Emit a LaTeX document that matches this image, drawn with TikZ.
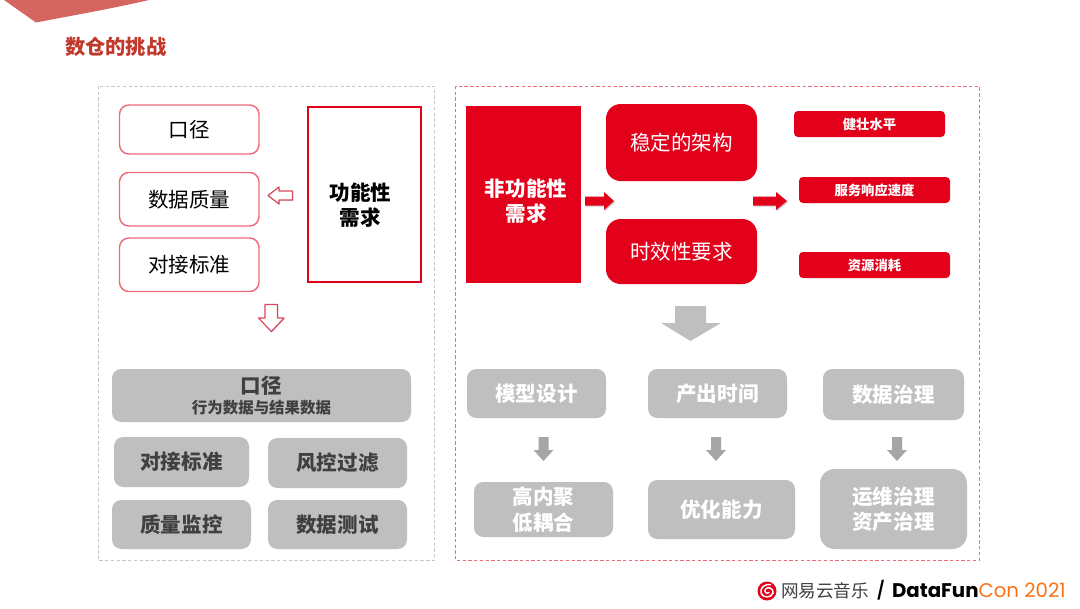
\documentclass[tikz,border=0pt]{standalone}
\usepackage{fontspec}
\setmainfont{Noto Sans CJK SC}
\newfontfamily\latinbold{Poppins}
\usetikzlibrary{shadows,calc}
\definecolor{nered}{HTML}{E2001A}
\definecolor{paleline}{HTML}{EE6A7C}
\definecolor{arrowline}{HTML}{D9485C}
\definecolor{greyfill}{HTML}{BFBFBF}
\definecolor{greydark}{HTML}{A6A6A6}
\definecolor{greytext}{HTML}{404040}
\definecolor{titlered}{HTML}{C0392B}
\definecolor{wedge}{HTML}{D4665F}
\definecolor{funorange}{HTML}{F97316}
\tikzset{
  x=0.75pt,y=-0.75pt,
  every node/.style={align=center,inner sep=0pt,outer sep=0pt,font=\fontsize{15.4}{19}\selectfont},
  frame/.style={draw,line width=0.6pt,dash pattern=on 2.5pt off 1.8pt},
  outline/.style={draw=paleline,line width=1.1pt,rounded corners=7pt,fill=white,text=black},
  redbox/.style={fill=nered,text=white,rounded corners=11pt},
  redtag/.style={fill=nered,text=white,rounded corners=3pt,font=\fontsize{10}{12}\selectfont\bfseries},
  greyboxl/.style={fill=greyfill,text=greytext,rounded corners=7pt,font=\fontsize{15.4}{19}\selectfont\bfseries},
  greyboxr/.style={fill=greyfill,text=white,rounded corners=7pt,font=\fontsize{15.4}{19}\selectfont\bfseries},
  hollow/.style={draw=arrowline,fill=white,line width=0.9pt,line join=round,drop shadow={shadow xshift=0.6pt,shadow yshift=-0.9pt,opacity=0.3}},
  solidred/.style={fill=nered,drop shadow={shadow xshift=0.8pt,shadow yshift=-0.9pt,opacity=0.4}},
  solidgrey/.style={fill=greyfill},
  smallgrey/.style={fill=greydark},
}
\newcommand{\bx}[7]{\node[#1,minimum width=#4*0.75pt-#2*0.75pt,minimum height=#5*0.75pt-#3*0.75pt] (#6) at ({(#2+#4)/2},{(#3+#5)/2}) {#7};}
\begin{document}
\begin{tikzpicture}
\useasboundingbox (0,0) rectangle (1080,608);
\fill[white] (0,0) rectangle (1080,608);
\fill[wedge] (4,0) -- (36,22.5) .. controls (75,15) and (110,9) .. (149,0) -- cycle;
\node[anchor=west,text=titlered,font=\fontsize{15.2}{18}\selectfont\bfseries] (title) at (65,46.5) {数仓的挑战};
% frames
\draw[frame,draw=black!22] (98,86) rectangle (434.5,560.5);
\draw[frame,draw=paleline] (455.5,86) rectangle (979,560.5);
% left top
\bx{outline}{119.5}{105}{259}{154}{a1}{口径}
\bx{outline}{119.5}{172.5}{259}{226}{a2}{数据质量}
\bx{outline}{119.5}{238}{259}{291.5}{a3}{对接标准}
\node[draw=nered,line width=1.7pt,minimum width=113*0.75pt,minimum height=175*0.75pt] (func) at (364.5,194.5) {};
\node[font=\fontsize{15.4}{18.5}\selectfont\bfseries] (funclab) at (360.5,205) {功能性\\需求};
\draw[hollow] (268,195.5) -- (279,187) -- (279,191) -- (292.5,191) -- (292.5,200) -- (279,200) -- (279,204) -- cycle;
\draw[hollow] (265,304.5) -- (277.5,304.5) -- (277.5,318) -- (284,318) -- (271.3,331.5) -- (258.5,318) -- (265,318) -- cycle;
% left bottom
\bx{greyboxl}{112}{369}{411}{422}{b0}{\fontsize{15.4}{16}\selectfont 口径\\[-3.4pt]\fontsize{11.6}{14}\selectfont 行为数据与结果数据}
\bx{greyboxl}{114}{437}{249}{487}{b1}{对接标准}
\bx{greyboxl}{268}{438}{407}{488}{b2}{风控过滤}
\bx{greyboxl}{112}{500}{251}{549}{b3}{质量监控}
\bx{greyboxl}{268}{500}{407}{549}{b4}{数据测试}
% right top
\bx{fill=nered}{466}{106}{581}{283}{nf}{}
\node[text=white,font=\fontsize{15.4}{18.5}\selectfont\bfseries] (nflab) at (526,201) {非功能性\\需求};
\bx{redbox}{606}{104}{757}{181}{c1}{稳定的架构}
\bx{redbox}{606}{219}{757}{284}{c2}{时效性要求}
\bx{redtag}{794}{111}{945}{137}{d1}{健壮水平}
\bx{redtag}{799}{177}{950}{203}{d2}{服务响应速度}
\bx{redtag}{799}{252}{950}{278}{d3}{资源消耗}
\fill[solidred] (585,196.5) -- (604,196.5) -- (604,192) -- (614,201) -- (604,210) -- (604,205.5) -- (585,205.5) -- cycle;
\fill[solidred] (753,196.5) -- (776,196.5) -- (776,192) -- (787,201) -- (776,210) -- (776,205.5) -- (753,205.5) -- cycle;
\fill[solidgrey] (675,306) -- (706,306) -- (706,323) -- (721,323) -- (690.5,341) -- (661,323) -- (675,323) -- cycle;
% right bottom
\bx{greyboxr}{467}{369}{606}{418}{e1}{模型设计}
\bx{greyboxr}{648}{369}{787}{418}{e2}{产出时间}
\bx{greyboxr}{823}{369}{964}{420}{e3}{数据治理}
\bx{greyboxr}{474}{482}{613}{537}{f1}{高内聚\\低耦合}
\bx{greyboxr}{648}{480}{795}{539}{f2}{优化能力}
\bx{greyboxr,rounded corners=11pt}{820}{469}{967}{549}{f3}{运维治理\\资产治理}
\foreach \cx in {543.5,716,897}{
  \fill[smallgrey] (\cx-5,437) -- (\cx+5,437) -- (\cx+5,450) -- (\cx+10,450) -- (\cx,461) -- (\cx-10,450) -- (\cx-5,450) -- cycle;
}
% logo
\fill[nered] (767,591) circle (9.5);
\draw[white,line width=1.1pt,line cap=round] (770.5,584.5) .. controls (763,584) and (760,589) .. (761,593) .. controls (762.5,598) and (771,598.5) .. (773,593) .. controls (774,588.5) and (768,586) .. (765.5,589) .. controls (763.5,592) and (767,594.5) .. (769,592.5);
\node[anchor=west,text=black!75,font=\fontsize{13.2}{15}\selectfont] (brand) at (781,590.5) {网易云音乐};
\node[anchor=west,font=\fontsize{15}{15}\selectfont\bfseries] (slash) at (877,590.5) {/};
\node[anchor=west,font=\fontsize{14.8}{15}\latinbold\bfseries] (df) at (892,590.5) {DataFun\textcolor{funorange}{\mdseries Con 2021}};
\end{tikzpicture}
\end{document}
